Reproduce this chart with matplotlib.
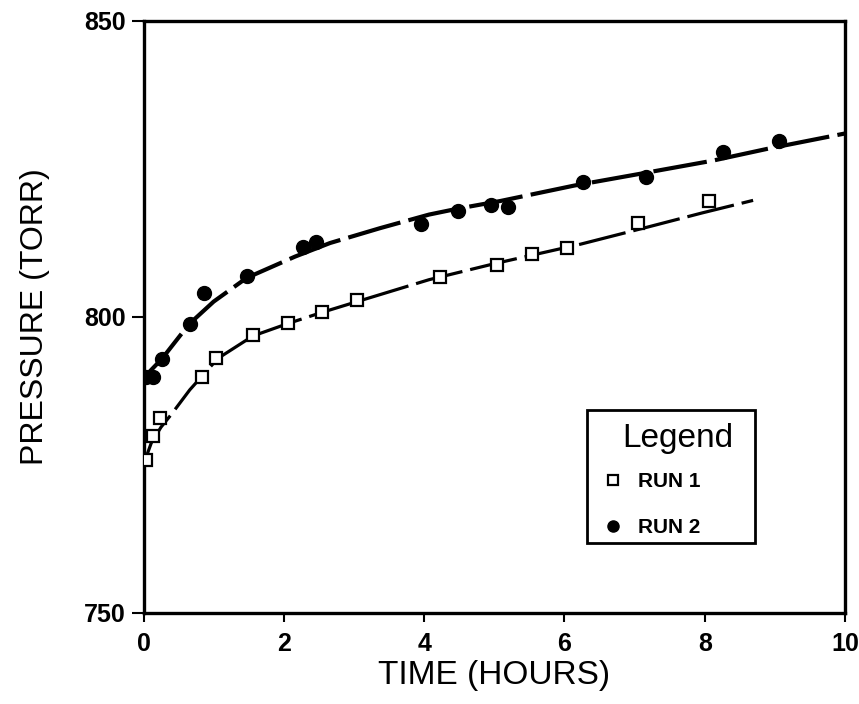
import matplotlib
matplotlib.use("Agg")
import matplotlib.pyplot as plt
from matplotlib.patches import Rectangle

# measured points
run1_t = [0.04, 0.13, 0.24, 0.84, 1.03, 1.56, 2.06, 2.54, 3.05, 4.23, 5.04, 5.54, 6.04, 7.05, 8.06]
run1_p = [775.9, 779.9, 782.9, 789.9, 793.1, 797.0, 799.0, 800.9, 802.9, 806.8, 808.8, 810.7, 811.7, 815.9, 819.6]

run2_t = [0.03, 0.14, 0.26, 0.66, 0.86, 1.47, 2.27, 2.46, 3.96, 4.48, 4.96, 5.19, 6.26, 7.17, 8.26, 9.06]
run2_p = [789.8, 789.9, 792.9, 798.9, 804.0, 806.9, 811.8, 812.7, 815.7, 817.9, 818.9, 818.5, 822.8, 823.7, 827.9, 829.7]

# fitted curves as drawn in the figure
fit1_t = [0.04, 0.11, 0.25, 0.4, 0.66, 1.06, 1.56, 2.06, 2.55, 3.1, 4.07, 5.0, 6.23, 7.19, 7.97, 8.69]
fit1_p = [776.4, 778.7, 781.4, 783.6, 787.7, 793.0, 796.8, 798.9, 800.8, 802.8, 806.3, 809.0, 812.3, 815.2, 817.6, 819.7]

fit2_t = [0.04, 0.26, 0.65, 1.0, 1.47, 2.16, 2.66, 3.37, 4.07, 4.48, 5.09, 6.14, 6.99, 8.11, 8.89, 10.0]
fit2_p = [790.2, 792.9, 798.8, 802.6, 806.6, 810.2, 812.5, 815.0, 817.3, 818.3, 819.6, 822.2, 824.0, 826.4, 828.4, 831.0]

xticks = [0, 2, 4, 6, 8, 10]
yticks = [750, 800, 850]

plt.rcParams['font.family'] = ['Liberation Sans', 'DejaVu Sans']

W, H = 859, 704
fig = plt.figure(figsize=(W / 100, H / 100), dpi=100)
ax = fig.add_axes([143.5 / W, 1 - 613 / H, 701.5 / W, 592 / H])

ax.plot(fit1_t, fit1_p, color='black', lw=2.3, dashes=(15, 2.5), zorder=2)
ax.plot(fit2_t, fit2_p, color='black', lw=3.0, dashes=(13, 2), zorder=2)
ax.plot(run1_t, run1_p, 's', ms=9, mfc='white', mec='black', mew=1.6, label='RUN 1', zorder=3)
ax.plot(run2_t, run2_p, 'o', ms=10, color='black', label='RUN 2', zorder=3)

ax.set_xlim(0, 10)
ax.set_ylim(750, 850)
ax.set_xticks(xticks)
ax.set_yticks(yticks)
ax.tick_params(direction='out', width=1.5, labelsize=18)
ax.tick_params(axis='x', length=6.5, pad=7)
ax.tick_params(axis='y', length=9, pad=4)
for lab in ax.get_xticklabels() + ax.get_yticklabels():
    lab.set_fontweight('bold')
for s in ax.spines.values():
    s.set_linewidth(2.4)

ax.set_xlabel('TIME (HOURS)', fontsize=24, labelpad=3)
ax.set_ylabel('PRESSURE (TORR)', fontsize=23, labelpad=24)

# legend: frame, title and entries
fig.patches.append(Rectangle((587 / W, 1 - 543 / H), 168 / W, 133 / H, transform=fig.transFigure,
                             fill=False, edgecolor='black', lw=2.0, zorder=5))
fig.text(622 / W, 1 - 447 / H, 'Legend', fontsize=24, va='baseline', ha='left')
leg = ax.legend(loc='upper left', bbox_to_anchor=(602.6 / W, 1 - 472 / H), bbox_transform=fig.transFigure,
                prop={'size': 15, 'weight': 'bold'}, frameon=False, borderpad=0, borderaxespad=0,
                handlelength=1.0, handletextpad=0.7, labelspacing=1.3, markerscale=0.8)

fig.savefig('out.png', dpi=100)
